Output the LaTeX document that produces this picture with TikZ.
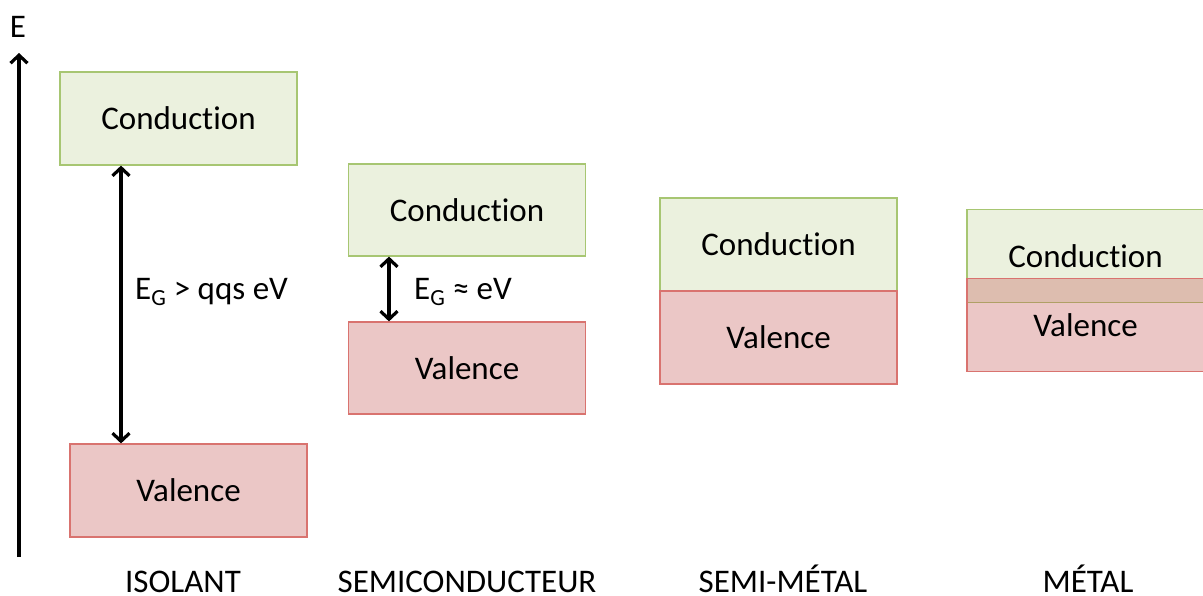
\documentclass[tikz,border=0pt]{standalone}
\usepackage{fontspec}
\setmainfont[Ligatures=NoCommon]{Carlito}
\usetikzlibrary{arrows.meta}
\definecolor{cfill}{HTML}{EBF1DE}
\definecolor{cline}{HTML}{A7C672}
\definecolor{vbase}{HTML}{C0504D}
\definecolor{vline}{HTML}{D9736F}
\begin{document}
\begin{tikzpicture}[x=1pt,y=-1pt,
  every node/.style={font=\fontsize{33}{39}\selectfont},
  cbox/.style={draw=cline,fill=cfill,line width=1.2pt,minimum width=237pt,minimum height=93pt,inner sep=0pt},
  vbox/.style={draw=vline,fill=vbase,fill opacity=0.32,text opacity=1,draw opacity=1,line width=1.2pt,minimum width=237pt,minimum height=93pt,inner sep=0pt},
  dbl/.style={line width=3.2pt,{Straight Barb[length=8pt,width=17pt]}-{Straight Barb[length=8pt,width=17pt]}},
  lbl/.style={anchor=base}]
\useasboundingbox (0,0) rectangle (1203,595);
\clip (0,0) rectangle (1203,595);
% axis
\coordinate (axb) at (19,557);
\coordinate (axt) at (19,53);
\draw[line width=3.2pt,-{Straight Barb[length=8pt,width=17pt]}] (axb) -- (axt);
\node (E) at (18,27) {E};
% isolant
\node[cbox] (ci) at (178.5,118.5) {Conduction};
\node[vbox] (vi) at (188.5,490.5) {Valence};
\coordinate (a1) at (121,0);
\draw[dbl] (ci.south -| a1) -- (vi.north -| a1);
\node[anchor=west,inner sep=0pt] (egi) at (135,292) {E\textsubscript{G} > qqs eV};
% semiconducteur
\node[cbox,minimum height=92pt] (cs) at (467,210) {Conduction};
\node[vbox,minimum height=92pt] (vs) at (467,368) {Valence};
\coordinate (a2) at (389,0);
\draw[dbl] (cs.south -| a2) -- (vs.north -| a2);
\node[anchor=west,inner sep=0pt] (egs) at (414,292) {E\textsubscript{G} ≈ eV};
% semi-metal
\node[cbox] (csm) at (778.5,244.5) {Conduction};
\node[vbox] (vsm) at (778.5,337.5) {Valence};
% metal
\node[cbox] (cm) at (1085.5,256) {Conduction};
\node[vbox] (vm) at (1085.5,325) {Valence};
% bottom labels
\node[lbl,inner sep=0pt] (l1) at (183,592) {ISOLANT};
\node[lbl,inner sep=0pt] (l2) at (467,592) {SEMICONDUCTEUR};
\node[lbl,inner sep=0pt] (l3) at (783,592) {SEMI-MÉTAL};
\node[lbl,inner sep=0pt] (l4) at (1088,592) {MÉTAL};
\end{tikzpicture}
\end{document}
